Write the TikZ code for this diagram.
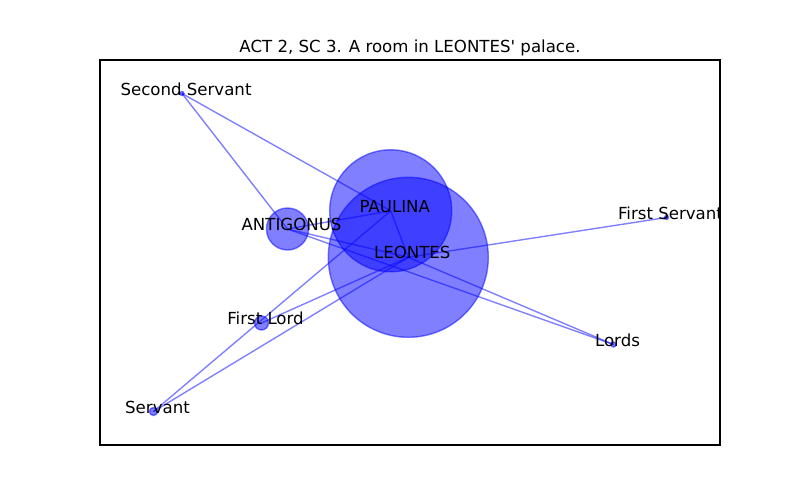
\documentclass[tikz,border=0pt]{standalone}
\usepackage{fontspec}
\newfontfamily\mplfont{DejaVu Sans}
\pgfdeclarelayer{bg}
\pgfsetlayers{bg,main}
\newcommand{\pxl}{0.7227pt}

\begin{document}
\begin{tikzpicture}[x=0.7227pt,y=-0.7227pt,
    person/.style={circle,inner sep=0pt,outer sep=0pt,fill=blue,draw=blue,
      fill opacity=0.5,draw opacity=0.5,line width=1pt},
    tie/.style={blue,opacity=0.5,line width=1pt},
    who/.style={anchor=base,inner sep=0pt,font=\mplfont\fontsize{12}{14}\selectfont,
      xshift=2.9pt,yshift=-1.2pt}]
  \useasboundingbox (0,0) rectangle (800,500);
  \node[anchor=base,inner sep=0pt,font=\mplfont\fontsize{12}{14}\selectfont] (title) at (410,52.5)
    {ACT 2, SC 3. A room in LEONTES' palace.};
  % characters, sized by their lines
  \node[person,minimum size=160*\pxl] (leontes) at (408.3,257.3) {};
  \node[person,minimum size=122*\pxl] (paulina) at (390.7,210.8) {};
  \node[person,minimum size=42*\pxl] (antigonus) at (287.5,229) {};
  \node[person,minimum size=14*\pxl] (firstlord) at (261.5,323) {};
  \node[person,minimum size=8*\pxl] (servant) at (153.5,411.5) {};
  \node[person,minimum size=4*\pxl] (secondservant) at (182,93.5) {};
  \node[person,minimum size=4*\pxl] (firstservant) at (666.5,217.5) {};
  \node[person,minimum size=5*\pxl] (lords) at (613.5,344.5) {};
  % who speaks with whom
  \begin{pgfonlayer}{bg}
    \draw[tie] (secondservant.center) -- (paulina.center);
    \draw[tie] (secondservant.center) -- (antigonus.center);
    \draw[tie] (antigonus.center) -- (paulina.center);
    \draw[tie] (antigonus.center) -- (leontes.center);
    \draw[tie] (antigonus.center) -- (lords.center);
    \draw[tie] (paulina.center) -- (leontes.center);
    \draw[tie] (paulina.center) -- (servant.center);
    \draw[tie] (leontes.center) -- (firstlord.center);
    \draw[tie] (leontes.center) -- (servant.center);
    \draw[tie] (leontes.center) -- (firstservant.center);
    \draw[tie] (leontes.center) -- (lords.center);
  \end{pgfonlayer}
  % names, cut at the frame
  \begin{scope}
    \clip (100,60) rectangle (720,445);
    \node[who] (lbl-leontes) at (leontes.center) {LEONTES};
    \node[who] (lbl-paulina) at (paulina.center) {PAULINA};
    \node[who] (lbl-antigonus) at (antigonus.center) {ANTIGONUS};
    \node[who] (lbl-firstlord) at (firstlord.center) {First Lord};
    \node[who] (lbl-servant) at (servant.center) {Servant};
    \node[who] (lbl-secondservant) at (secondservant.center) {Second Servant};
    \node[who] (lbl-firstservant) at (firstservant.center) {First Servant};
    \node[who] (lbl-lords) at (lords.center) {Lords};
  \end{scope}
  \draw[line width=0.8pt] (100,60) rectangle (720,445);
\end{tikzpicture}
\end{document}
